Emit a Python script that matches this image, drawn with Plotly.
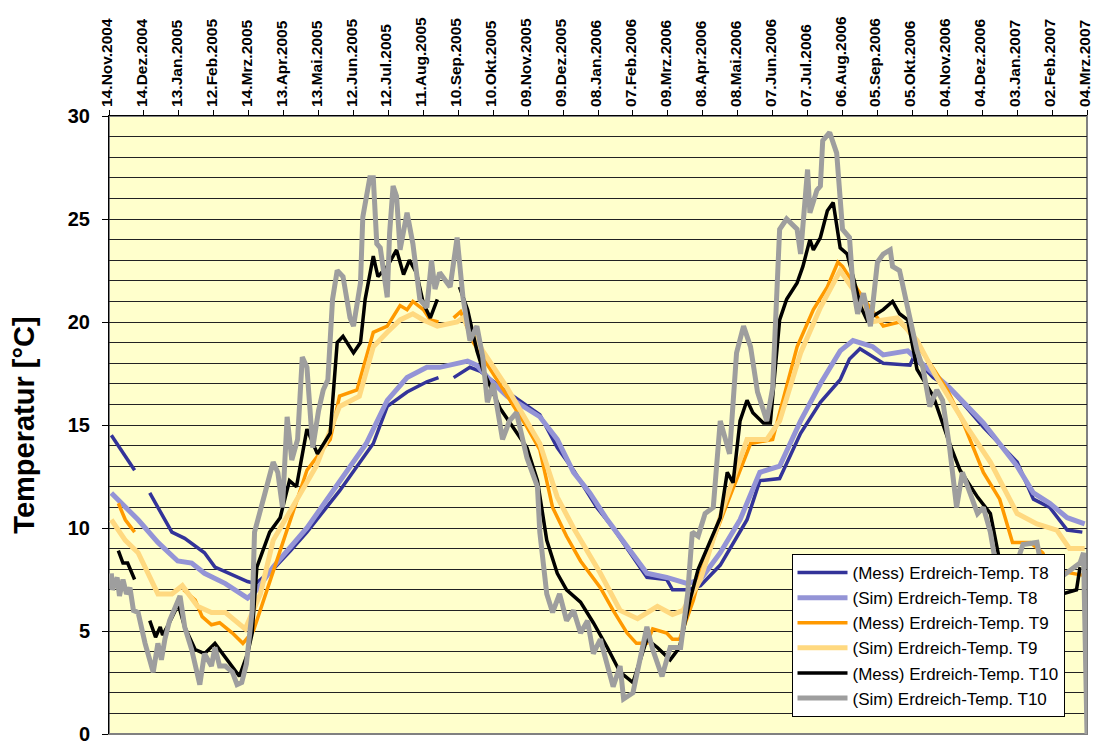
import pandas as pd
import plotly.graph_objects as go

# x-axis labels (every 30 days), German month abbreviations
tick_labels = [
    "14.Nov.2004", "14.Dez.2004", "13.Jan.2005", "12.Feb.2005", "14.Mrz.2005",
    "13.Apr.2005", "13.Mai.2005", "12.Jun.2005", "12.Jul.2005", "11.Aug.2005",
    "10.Sep.2005", "10.Okt.2005", "09.Nov.2005", "09.Dez.2005", "08.Jan.2006",
    "07.Feb.2006", "09.Mrz.2006", "08.Apr.2006", "08.Mai.2006", "07.Jun.2006",
    "07.Jul.2006", "06.Aug.2006", "05.Sep.2006", "05.Okt.2006", "04.Nov.2006",
    "04.Dez.2006", "03.Jan.2007", "02.Feb.2007", "04.Mrz.2007",
]

# day offsets from 14.Nov.2004 and temperatures (None = missing data)
mess_t8_days = [2, 22, 28, 35, 54, 65, 82, 91, 106, 119, 126, 141, 156, 170, 198, 227, 239, 256, 273, 283,
                289, 296, 310, 319, 342, 370, 385, 399, 419, 433, 450, 462, 479, 484, 497, 508, 525, 540,
                548, 559, 576, 594, 611, 628, 636, 645, 665, 688, 691, 708, 722, 751, 780, 794, 808, 823, 836]
mess_t8_vals = [14.5, 12.8, None, 11.7, 9.8, 9.5, 8.8, 8.1, 7.7, 7.4, 7.3, 8.0, 8.9, 9.8, 11.8, 14.1, 15.9, 16.6, 17.1, 17.3,
                None, 17.3, 17.8, 17.6, 16.6, 15.5, 13.9, 12.8, 11.0, 10.0, 8.6, 7.6, 7.5, 7.0, 7.0, 7.2, 8.2, 9.6,
                10.4, 12.3, 12.4, 14.6, 16.1, 17.2, 18.2, 18.7, 18.0, 17.9, 18.3, 17.3, 16.8, 14.9, 13.2, 11.4, 11.0, 9.9, 9.8]

sim_t8_days = [2, 25, 42, 59, 71, 82, 100, 119, 127, 141, 170, 198, 221, 239, 256, 273, 284, 308, 316, 327,
               342, 370, 385, 399, 413, 428, 445, 462, 479, 497, 508, 525, 542, 559, 576, 594, 611, 628, 639,
               656, 665, 686, 694, 722, 751, 780, 794, 808, 823, 838]
sim_t8_vals = [11.7, 10.4, 9.3, 8.4, 8.3, 7.8, 7.3, 6.6, 7.0, 8.1, 10.0, 12.3, 14.1, 16.2, 17.3, 17.8, 17.8, 18.1, 17.9, 17.2,
               16.4, 15.4, 14.3, 12.7, 11.7, 10.4, 9.1, 7.8, 7.6, 7.3, 7.5, 8.8, 10.4, 12.7, 13.0, 15.2, 17.0, 18.6, 19.1,
               18.8, 18.4, 18.6, 18.2, 16.8, 15.1, 13.0, 11.7, 11.2, 10.5, 10.2]

mess_t9_days = [8, 14, 22, 40, 64, 74, 80, 88, 95, 106, 115, 124, 147, 170, 190, 198, 213, 227, 239, 250, 256,
                261, 270, 276, 283, 289, 296, 302, 313, 342, 359, 370, 381, 393, 405, 422, 433, 445, 453, 462,
                467, 479, 484, 490, 502, 508, 515, 531, 551, 559, 570, 576, 591, 605, 617, 626, 630, 645, 665,
                679, 686, 705, 720, 733, 751, 765, 776, 791, 802, 808, 837]
mess_t9_vals = [11.2, 10.4, 9.8, None, 7.0, 6.5, 5.7, 5.3, 5.4, 4.9, 4.4, 5.0, 8.9, 12.8, 14.3, 16.4, 16.7, 19.5, 19.8, 20.8, 20.6,
                21.0, 20.6, 20.1, 20.0, None, 20.2, 20.5, 19.0, 16.4, 14.9, 13.8, 11.0, 9.6, 8.4, 7.1, 6.0, 4.9, 4.4, 4.4,
                5.1, 4.9, 4.6, 4.6, 6.5, 7.8, 8.8, 11.2, 14.1, 14.2, 14.3, 15.6, 18.8, 20.6, 21.7, 22.9, 22.7, 21.4, 19.8,
                20.0, 19.6, 18.0, 16.7, 15.2, 12.7, 11.4, 9.3, 9.3, 8.8, 8.0, 7.7]

sim_t9_days = [2, 14, 25, 42, 54, 63, 76, 88, 100, 117, 130, 141, 178, 198, 215, 227, 239, 250, 261, 270, 282,
               299, 304, 321, 342, 370, 385, 399, 422, 439, 454, 471, 484, 493, 508, 527, 548, 565, 576, 594,
               611, 628, 645, 654, 677, 694, 711, 737, 757, 780, 797, 814, 825, 838]
sim_t9_vals = [10.4, 9.4, 8.8, 6.8, 6.8, 7.2, 6.2, 5.9, 5.9, 5.1, 6.8, 9.4, 13.0, 15.9, 16.4, 18.8, 19.5, 20.1, 20.4, 20.1, 19.8,
               20.0, 20.2, 18.6, 16.8, 14.1, 11.5, 10.0, 7.8, 6.0, 5.6, 6.2, 5.8, 6.0, 7.5, 10.9, 14.3, 14.3, 15.2, 18.5,
               20.7, 22.5, 21.1, 20.0, 20.2, 19.1, 17.3, 14.9, 13.2, 10.7, 10.2, 9.9, 9.0, 9.0]

mess_t10_days = [8, 12, 16, 22, 28, 35, 40, 44, 46, 50, 57, 59, 65, 74, 82, 91, 100, 108, 112, 119, 123, 127,
                 138, 147, 155, 161, 170, 179, 190, 196, 201, 210, 216, 220, 227, 231, 239, 247, 253, 258, 264,
                 270, 276, 282, 290, 301, 308, 316, 321, 336, 359, 368, 376, 385, 393, 405, 416, 428, 439, 450,
                 462, 471, 482, 490, 499, 506, 525, 531, 536, 542, 548, 553, 562, 568, 576, 582, 591, 596, 602,
                 605, 611, 617, 622, 628, 634, 640, 646, 651, 660, 665, 673, 679, 686, 694, 708, 722, 731, 746,
                 757, 765, 782, 800, 819, 831, 834]
mess_t10_vals = [8.9, 8.3, 8.3, 7.5, None, 5.5, 4.7, 5.2, 4.8, 5.2, 6.0, 6.4, 5.2, 4.1, 3.9, 4.4, 3.7, 3.1, 2.8, 3.9, 4.9, 8.1,
                 9.8, 10.5, 12.3, 12.0, 14.8, 13.6, 14.6, 19.0, 19.3, 18.5, 19.0, 21.1, 23.2, 22.2, 22.7, 23.5, 22.3, 23.0, 22.4,
                 20.9, 20.2, 21.1, None, 21.7, 20.6, 18.6, 17.7, 15.8, 13.9, 12.3, 9.4, 7.8, 7.0, 6.4, 5.4, 4.2, 3.0, 2.5,
                 4.6, 4.2, 3.6, 4.2, 6.5, 8.0, 10.5, 12.7, 12.2, 15.2, 16.2, 15.6, 15.1, 15.1, 20.1, 21.1, 21.9, 22.7, 24.0,
                 23.5, 24.1, 25.4, 25.8, 23.6, 23.3, 22.0, 20.7, 20.1, 20.4, 20.6, 21.0, 20.4, 20.1, 17.7, 16.4, 14.1, 12.8, 11.5,
                 10.7, 8.4, 7.8, 7.3, 6.8, 7.0, 8.1]

sim_t10_days = [2, 3, 7, 9, 12, 15, 18, 21, 25, 31, 38, 42, 45, 48, 52, 57, 61, 65, 71, 78, 82, 88, 91, 95,
                100, 106, 110, 114, 118, 123, 125, 134, 141, 145, 149, 153, 157, 162, 166, 170, 173, 175, 180,
                184, 188, 192, 196, 201, 207, 210, 216, 218, 224, 227, 230, 233, 239, 241, 244, 247, 250, 256,
                261, 267, 273, 277, 280, 284, 293, 299, 304, 310, 316, 321, 325, 330, 338, 344, 350, 359, 368,
                370, 376, 381, 387, 393, 399, 405, 411, 416, 422, 428, 433, 439, 442, 450, 462, 467, 475, 482,
                491, 497, 501, 506, 512, 519, 525, 533, 539, 545, 551, 557, 565, 570, 576, 582, 591, 594, 600,
                602, 608, 611, 613, 619, 625, 630, 636, 639, 643, 648, 654, 660, 665, 671, 673, 679, 682, 688,
                694, 699, 705, 711, 716, 722, 728, 733, 739, 746, 751, 757, 763, 772, 785, 797, 800, 815, 834,
                837, 840]
sim_t10_vals = [7.8, 7.0, 7.6, 6.7, 7.5, 6.8, 7.1, 6.0, 5.9, 4.4, 3.0, 4.4, 3.6, 4.6, 5.5, 6.2, 6.7, 5.2, 4.1, 2.4, 3.9, 3.3, 4.2, 3.3,
                3.3, 3.0, 2.4, 2.5, 3.4, 6.0, 9.8, 11.7, 13.2, 12.7, 11.0, 15.4, 13.3, 14.3, 18.3, 17.8, 15.7, 13.9, 15.7,
                16.7, 17.2, 21.1, 22.5, 22.2, 20.2, 19.8, 21.9, 25.1, 27.0, 27.0, 23.8, 23.6, 21.2, 24.3, 26.6, 26.1, 23.5, 25.3,
                23.8, 21.1, 20.7, 23.0, 21.6, 22.4, 21.7, 24.1, 21.2, 19.1, 19.8, 18.3, 16.1, 17.0, 14.3, 15.2, 15.6, 13.4, 12.0,
                9.8, 6.8, 5.9, 6.8, 5.5, 6.0, 4.9, 5.5, 3.9, 4.6, 3.3, 2.3, 3.3, 1.7, 2.0, 5.2, 4.1, 2.8, 4.2,
                4.2, 6.8, 9.8, 9.6, 10.7, 11.0, 15.2, 13.6, 18.5, 19.8, 18.8, 16.6, 15.2, 16.8, 24.5, 25.0, 24.5, 23.3, 27.4,
                25.3, 26.4, 26.6, 28.8, 29.2, 28.2, 24.5, 24.1, 21.7, 20.4, 21.4, 19.8, 22.9, 23.3, 23.5, 22.7, 22.5, 21.7, 20.2,
                18.6, 17.8, 15.9, 16.7, 16.2, 13.9, 11.0, 12.7, 11.7, 10.7, 11.0, 9.8, 7.8, 7.0, 9.2, 9.3, 8.4, 7.5, 8.3,
                8.8, 0.0]

month_map = {"Jan": 1, "Feb": 2, "Mrz": 3, "Apr": 4, "Mai": 5, "Jun": 6,
             "Jul": 7, "Aug": 8, "Sep": 9, "Okt": 10, "Nov": 11, "Dez": 12}


def parse_label(s):
    d, m, y = s.split(".")
    return pd.Timestamp(int(y), month_map[m], int(d))


tick_dates = [parse_label(s) for s in tick_labels]
start = tick_dates[0]


def to_dates(days):
    return [start + pd.Timedelta(days=d) for d in days]


series = [
    ("(Mess) Erdreich-Temp. T8", mess_t8_days, mess_t8_vals, "#333399", 3.5),
    ("(Sim) Erdreich-Temp. T8", sim_t8_days, sim_t8_vals, "#9494D6", 5),
    ("(Mess) Erdreich-Temp. T9", mess_t9_days, mess_t9_vals, "#FF9900", 3.5),
    ("(Sim) Erdreich-Temp. T9", sim_t9_days, sim_t9_vals, "#FFD980", 5),
    ("(Mess) Erdreich-Temp. T10", mess_t10_days, mess_t10_vals, "#000000", 3.5),
    ("(Sim) Erdreich-Temp. T10", sim_t10_days, sim_t10_vals, "#9E9E9E", 5),
]

fig = go.Figure()
for name, days, vals, color, width in series:
    fig.add_trace(go.Scatter(
        x=to_dates(days), y=vals, name=name, mode="lines",
        line=dict(color=color, width=width), connectgaps=False,
    ))

font_family = "Arial, Liberation Sans, sans-serif"

fig.update_layout(
    width=1095, height=745,
    margin=dict(l=109, r=8, t=116, b=11),
    paper_bgcolor="white",
    plot_bgcolor="#FFFFCC",
    font=dict(family=font_family, color="black"),
    showlegend=True,
    legend=dict(
        x=0.977, xanchor="right", y=0.0275, yanchor="bottom",
        bgcolor="white", bordercolor="black", borderwidth=1,
        font=dict(size=17, family=font_family),
        itemwidth=50, tracegroupgap=0,
    ),
    shapes=[dict(type="rect", xref="paper", yref="paper", x0=0, x1=1, y0=0, y1=1,
                 line=dict(color="#808080", width=2), layer="below")],
)

fig.update_xaxes(
    type="date", side="top",
    range=[tick_dates[0], tick_dates[-1]],
    tickmode="array", tickvals=tick_dates, ticktext=tick_labels,
    tickangle=-90, tickfont=dict(size=15.5, family=font_family, weight="bold"),
    ticks="outside", ticklen=5, tickcolor="black",
    ticklabelshift=-2, ticklabeloverflow="allow",
    showline=True, linecolor="black", linewidth=1,
    showgrid=False, zeroline=False, automargin=False,
)

fig.update_yaxes(
    range=[0, 30], dtick=5, tick0=0,
    tickfont=dict(size=20, family=font_family, weight="bold"),
    ticks="outside", ticklen=6, tickcolor="black", ticklabelstandoff=8,
    showline=True, linecolor="black", linewidth=1,
    showgrid=True, gridcolor="#222222", gridwidth=1,
    minor=dict(dtick=1, showgrid=True, gridcolor="#222222", gridwidth=1),
    zeroline=False, automargin=False,
    title=dict(text="Temperatur [°C]", font=dict(size=29, family=font_family, weight="bold"), standoff=24),
)

# drop the default page margin so the figure fills the window exactly
fig.write_html("out.html", config={"displayModeBar": False},
               post_script="document.body.style.margin='0';")
